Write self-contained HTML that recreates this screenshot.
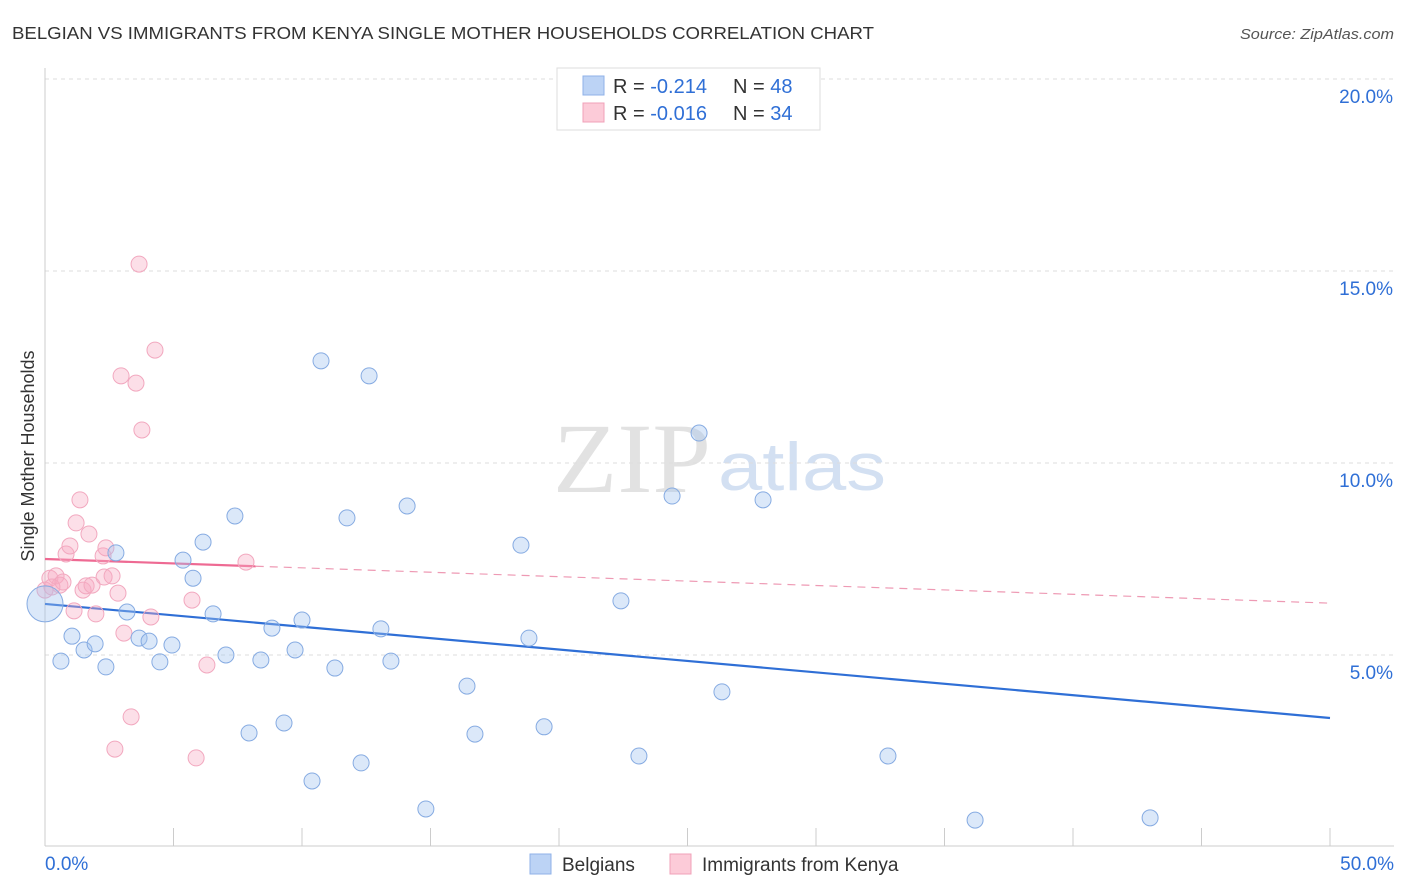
<!DOCTYPE html>
<html><head><meta charset="utf-8">
<style>
body{margin:0;background:#fff;font-family:"Liberation Sans",sans-serif;}
svg{display:block}
</style></head>
<body>
<svg id="chart" width="1406" height="892">
<text x="12" y="39" font-size="17.5" fill="#333" textLength="862" lengthAdjust="spacingAndGlyphs">BELGIAN VS IMMIGRANTS FROM KENYA SINGLE MOTHER HOUSEHOLDS CORRELATION CHART</text>
<text x="1394" y="39" font-size="15" fill="#555" font-style="italic" text-anchor="end" textLength="154" lengthAdjust="spacingAndGlyphs">Source: ZipAtlas.com</text>
<text x="553" y="492" font-size="100" fill="#e2e2e2" font-family="Liberation Serif,serif" textLength="158" lengthAdjust="spacingAndGlyphs">ZIP</text>
<text x="718" y="490" font-size="68" fill="#d3e0f2" textLength="168" lengthAdjust="spacingAndGlyphs">atlas</text>
<text transform="translate(34,456) rotate(-90)" font-size="18" fill="#333" text-anchor="middle">Single Mother Households</text>
<g id="grid"></g><g id="ticks"></g><g id="trends"></g><g id="pts"></g>
<g>
<rect x="557" y="68" width="263" height="62" fill="#fff" stroke="#ddd"/>
<rect x="583" y="76" width="21" height="19" fill="#bcd3f5" stroke="#8fb2e8"/>
<rect x="583" y="103" width="21" height="19" fill="#fccbd8" stroke="#f0a0b8"/>
<text x="613" y="93" font-size="20" fill="#333">R = <tspan fill="#2f6fd6">-0.214</tspan></text>
<text x="733" y="93" font-size="20" fill="#333">N = <tspan fill="#2f6fd6">48</tspan></text>
<text x="613" y="120" font-size="20" fill="#333">R = <tspan fill="#2f6fd6">-0.016</tspan></text>
<text x="733" y="120" font-size="20" fill="#333">N = <tspan fill="#2f6fd6">34</tspan></text>
</g>
<g>
<rect x="530" y="854" width="21" height="20" fill="#bcd3f5" stroke="#8fb2e8"/>
<text x="562" y="871" font-size="19" fill="#333">Belgians</text>
<rect x="670" y="854" width="21" height="20" fill="#fccbd8" stroke="#f0a0b8"/>
<text x="702" y="871" font-size="19" fill="#333">Immigrants from Kenya</text>
</g>
</svg>
<script>
const yTicks=[5,10,15,20];
const xTickLabels=["0.0%","50.0%"];
const blueX=[0,0.62,1.05,1.52,1.95,2.37,2.76,3.19,3.66,4.05,4.47,4.94,5.37,5.76,6.15,6.54,7.04,7.39,7.94,8.40,8.83,9.30,9.73,10.0,10.39,10.74,11.28,11.75,12.30,12.61,13.07,13.46,14.09,14.82,16.42,16.73,18.52,18.83,19.42,22.41,23.11,24.40,25.45,26.34,27.94,32.80,36.19,43.0];
const blueY=[6.33,4.84,5.49,5.13,5.29,4.69,7.66,6.12,5.44,5.36,4.82,5.26,7.47,7.0,7.94,6.07,5.0,8.62,2.97,4.87,5.70,3.23,5.13,5.91,1.72,12.66,4.66,8.57,2.19,12.27,5.68,4.84,8.88,0.99,4.19,2.94,7.86,5.44,3.13,6.41,2.37,9.14,10.78,4.04,9.04,2.37,0.70,0.76];
const pinkX=[0,0.19,0.43,0.58,0.82,0.97,1.13,1.21,1.36,1.48,1.6,1.71,1.83,1.98,2.26,2.37,2.30,2.61,2.72,2.84,2.96,3.07,3.35,3.54,3.66,3.77,4.12,4.28,5.72,5.88,6.30,7.82,0.27,0.70];
const pinkY=[6.69,7.0,7.06,6.82,7.63,7.84,6.15,8.44,9.04,6.69,6.80,8.15,6.82,6.07,7.58,7.79,7.03,7.06,2.55,6.61,12.27,5.57,3.39,12.08,15.18,10.86,5.99,12.94,6.43,2.32,4.74,7.42,6.77,6.90];
const blueTrend=[6.33,3.36];
const pinkTrend=[7.5,6.35];
const X=v=>45+v*25.7, Y=v=>847-v*38.4;
const NS="http://www.w3.org/2000/svg";
function mk(tag,attrs,parent){const e=document.createElementNS(NS,tag);for(const k in attrs)e.setAttribute(k,attrs[k]);document.getElementById(parent).appendChild(e);return e;}
yTicks.forEach(t=>{
  const l=mk('line',{x1:45,x2:1394,y1:Y(t),y2:Y(t),stroke:'#ddd','stroke-dasharray':'4,4'},'grid');
  
  
  const tx=mk('text',{x:1393,y:Y(t)+24,'font-size':19,fill:'#2f6fd6','text-anchor':'end'},'ticks');
  tx.textContent=t.toFixed(1)+'%';
  
  
});
const ax=mk('line',{x1:45,x2:45,y1:68,y2:846,stroke:'#ccc'},'grid');


const bx=mk('line',{x1:45,x2:1394,y1:846,y2:846,stroke:'#ccc'},'grid');


for(let i=1;i<=10;i++){
  const t=mk('line',{x1:X(i*5),x2:X(i*5),y1:828,y2:846,stroke:'#ccc'},'grid');
  
  
}
xTickLabels.forEach((s,i)=>{
  const t=mk('text',{x:i?1394:45,y:870,'font-size':19,fill:'#2f6fd6','text-anchor':i?'end':'start'},'ticks');
  t.textContent=s;
  
  
});
const bl=mk('line',{x1:X(0),y1:Y(blueTrend[0]),x2:X(50),y2:Y(blueTrend[1]),stroke:'#2f6fd6','stroke-width':2.2},'trends');


const pAt=x=>pinkTrend[0]+(pinkTrend[1]-pinkTrend[0])*x/50;
const ps=mk('line',{x1:X(0),y1:Y(pAt(0)),x2:X(8.2),y2:Y(pAt(8.2)),stroke:'#ee6a93','stroke-width':2.2},'trends');


const pd=mk('line',{x1:X(8.2),y1:Y(pAt(8.2)),x2:X(50),y2:Y(pAt(50)),stroke:'#ee9ab4','stroke-width':1.2,'stroke-dasharray':'8,6'},'trends');


pinkX.forEach((x,i)=>{
  const c=mk('circle',{cx:X(x),cy:Y(pinkY[i]),r:8,fill:'rgba(247,170,195,0.38)',stroke:'#f2a8bf','stroke-width':1},'pts');
  
  
});
blueX.forEach((x,i)=>{
  const c=mk('circle',{cx:X(x),cy:Y(blueY[i]),r:i===0?18:8,fill:'rgba(160,195,240,0.38)',stroke:'#86abe2','stroke-width':1},'pts');
  
  
});
</script>
</body></html>
